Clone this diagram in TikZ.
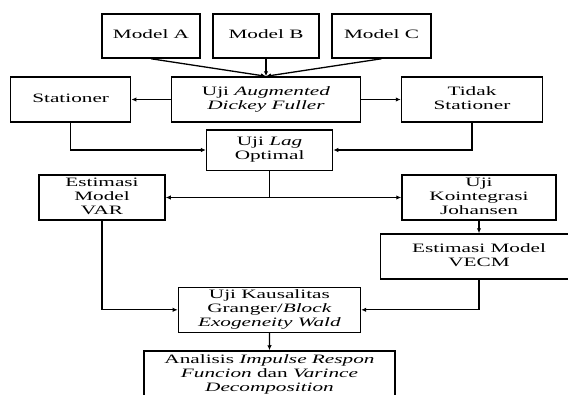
\documentclass[tikz,border=0pt]{standalone}
\usepackage{fontspec}
\usepackage{graphicx}
\setmainfont{Liberation Serif}
\newcommand\sx[1]{\scalebox{1.66}[1]{\begin{tabular}{@{}c@{}}#1\end{tabular}}}
\usetikzlibrary{arrows.meta,calc}
\begin{document}
\begin{tikzpicture}[x=1pt,y=-1pt,
  box/.style={draw,line width=1.5pt,rectangle,inner sep=0pt,align=center,
    font=\fontsize{12.8}{14}\selectfont},
  conn/.style={line width=1.3pt,-{Latex[length=5pt,width=4.5pt]}},
  plain/.style={line width=1.3pt}]
\useasboundingbox (0,0) rectangle (568,394);
\clip (0,0) rectangle (568,394);
\node[box,minimum width=98pt,minimum height=44pt] (A) at (151,36) {\sx{Model A}};
\node[box,minimum width=106pt,minimum height=44pt] (B) at (266,36) {\sx{Model B}};
\node[box,minimum width=99pt,minimum height=44pt] (C) at (381.5,36) {\sx{Model C}};
\node[box,minimum width=189pt,minimum height=45pt] (adf) at (266,99.5) {\sx{Uji \textit{Augmented}\\\textit{Dickey Fuller}}};
\node[box,minimum width=120pt,minimum height=45pt] (stat) at (70.7,99.5) {\sx{Stationer}};
\node[box,minimum width=141pt,minimum height=45pt] (tidak) at (472,99.5) {\sx{Tidak\\Stationer}};
\node[box,minimum width=126pt,minimum height=40.5pt] (lag) at (269.6,150) {\sx{Uji \textit{Lag}\\Optimal}};
\node[box,minimum width=126pt,minimum height=45pt] (var) at (102,197.5) {\sx{Estimasi\\Model\\VAR}};
\node[box,minimum width=154pt,minimum height=45pt] (joh) at (479,197.5) {\sx{Uji\\Kointegrasi\\Johansen}};
\node[box,minimum width=197.5pt,minimum height=45pt] (vecm) at (479,256.5) {\sx{Estimasi Model\\VECM}};
\node[box,minimum width=182pt,minimum height=45pt] (gr) at (269.4,309.8) {\sx{Uji Kausalitas\\Granger/\textit{Block}\\\textit{Exogeneity Wald}}};
\node[box,minimum width=251pt,minimum height=47pt] (an) at (269.5,374.5) {\sx{Analisis \textit{Impulse Respon}\\\textit{Funcion} dan \textit{Varince}\\\textit{Decomposition}}};
\draw[conn] (A.south) -- (adf.north);
\draw[conn] (B.south) -- (adf.north);
\draw[conn] (C.south) -- (adf.north);
\draw[conn] (adf.west) -- (stat.east);
\draw[conn] (adf.east) -- (tidak.west);
\draw[conn] (stat.south) |- (lag.west);
\draw[conn] (tidak.south) |- (lag.east);
\coordinate (split) at (lag.south |- var.east);
\draw[plain] (lag.south) -- (split);
\draw[conn] (split) -- (var.east);
\draw[conn] (split) -- (joh.west);
\draw[conn] (joh.south) -- (vecm.north);
\draw[conn] (var.south) |- (gr.west);
\draw[conn] (vecm.south) |- (gr.east);
\draw[conn] (gr.south) -- (an.north);
\end{tikzpicture}
\end{document}
